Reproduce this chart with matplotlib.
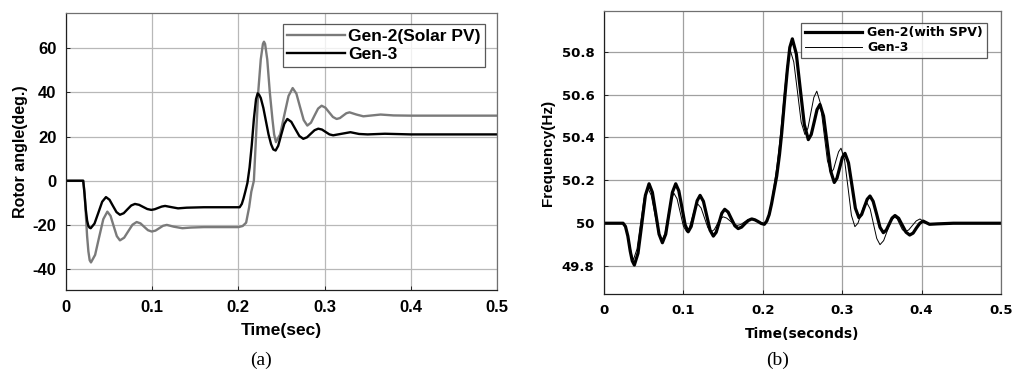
import matplotlib.pyplot as plt

# (a) rotor angle
t_gen2a = [0, 0.02, 0.0215, 0.023, 0.0245, 0.026, 0.0275, 0.029,
           0.0338, 0.0385, 0.0433, 0.048,
           0.0517, 0.0553, 0.059, 0.0626,
           0.0675, 0.0723, 0.0772, 0.082,
           0.0864, 0.0907, 0.0951, 0.0994,
           0.1038, 0.1082, 0.1126, 0.117,
           0.125, 0.135, 0.145, 0.16, 0.18, 0.2, 0.205,
           0.209, 0.2125, 0.215, 0.218, 0.2205, 0.223, 0.226, 0.2285, 0.2297,
           0.231, 0.2335, 0.2365, 0.2395, 0.2415, 0.2436,
           0.2485, 0.2533, 0.2582, 0.263,
           0.2673, 0.2715, 0.2758, 0.28,
           0.2842, 0.2883, 0.2925, 0.2966,
           0.301, 0.3053, 0.3097, 0.314,
           0.3178, 0.3215, 0.3253, 0.329,
           0.337, 0.345, 0.355, 0.365, 0.38, 0.4, 0.5]
y_gen2a = [0, 0, -5, -15, -25, -32, -36, -37,
           -33.6, -25.5, -17.4, -14,
           -15.9, -20.5, -25.1, -27,
           -25.8, -22.85, -19.9, -18.7,
           -19.3, -20.85, -22.4, -23,
           -22.6, -21.5, -20.4, -20,
           -20.8, -21.5, -21.2, -21, -21, -21, -20.5,
           -19, -12, -5, 0, 20, 40, 55, 62, 63,
           62, 55, 40, 28, 21, 17.5,
           21, 29.75, 38.4, 42,
           39.5, 33.5, 27.5, 25,
           26.3, 29.5, 32.7, 34,
           33.1, 31, 28.9, 28,
           28.4, 29.5, 30.6, 31,
           30, 29.2, 29.6, 30, 29.6, 29.5, 29.5]

t_gen3a = [0, 0.02, 0.0215, 0.023, 0.0245, 0.026, 0.0275, 0.0287,
           0.0331, 0.0376, 0.042, 0.0464,
           0.0505, 0.0545, 0.0586, 0.0626,
           0.067, 0.0713, 0.0757, 0.08,
           0.0848, 0.0895, 0.0943, 0.099,
           0.103, 0.107, 0.111, 0.115,
           0.123, 0.13, 0.14, 0.16, 0.2015,
           0.204, 0.206, 0.208, 0.2105, 0.213, 0.2155, 0.218, 0.2205, 0.2224,
           0.224, 0.226, 0.229, 0.232, 0.235, 0.238, 0.2405, 0.2432,
           0.2462, 0.2497, 0.2533, 0.2568,
           0.2614, 0.266, 0.2707, 0.2753,
           0.2797, 0.284, 0.2884, 0.2927,
           0.297, 0.3013, 0.3057, 0.31,
           0.32, 0.33, 0.34, 0.35, 0.37, 0.4, 0.5]
y_gen3a = [0, 0, -6, -13, -18, -20.5, -21.3, -21.5,
           -19.4, -14.45, -9.5, -7.4,
           -8.6, -11.4, -14.2, -15.4,
           -14.7, -12.95, -11.2, -10.5,
           -10.9, -11.85, -12.8, -13.2,
           -12.9, -12.3, -11.7, -11.4,
           -12, -12.5, -12.2, -12, -12,
           -10.5, -8, -5, -1, 6, 16, 28, 37, 39.6,
           39, 37.5, 33, 27, 21, 16.5, 14.2, 13.7,
           15.8, 20.8, 25.8, 28,
           26.7, 23.5, 20.3, 19,
           19.7, 21.3, 22.9, 23.6,
           23.2, 22.1, 21.0, 20.6,
           21.3, 22, 21.2, 21, 21.3, 21, 21]

# (b) frequency
t_gen2b = [0, 0.024, 0.027, 0.03, 0.033, 0.0355, 0.0382,
           0.0428, 0.0475, 0.0521, 0.0567,
           0.0609, 0.0651, 0.0693, 0.0735,
           0.0777, 0.0819, 0.0861, 0.0903,
           0.0942, 0.0982, 0.1021, 0.106,
           0.1098, 0.1135, 0.1173, 0.121,
           0.1252, 0.1294, 0.1335, 0.1377,
           0.1413, 0.1449, 0.1484, 0.152,
           0.1563, 0.1605, 0.1648, 0.169,
           0.1733, 0.1775, 0.1818, 0.186,
           0.19, 0.194, 0.198, 0.2019,
           0.205, 0.208, 0.211, 0.214, 0.2175, 0.221, 0.2238, 0.228, 0.231, 0.234, 0.2372,
           0.2422, 0.2472, 0.2523, 0.2573,
           0.261, 0.2647, 0.2683, 0.272,
           0.2765, 0.281, 0.2855, 0.29,
           0.2934, 0.2968, 0.3001, 0.3035,
           0.3079, 0.3123, 0.3166, 0.321,
           0.3245, 0.328, 0.3315, 0.335,
           0.339, 0.3434, 0.3476, 0.3518,
           0.3555, 0.3592, 0.3628, 0.3665,
           0.3711, 0.3758, 0.3804, 0.385,
           0.3893, 0.3935, 0.3978, 0.402,
           0.41, 0.42, 0.44, 0.5]
f_gen2b = [50, 50, 49.985, 49.94, 49.87, 49.825, 49.805,
           49.86, 49.995, 50.13, 50.184,
           50.144, 50.047, 49.949, 49.909,
           49.949, 50.047, 50.144, 50.184,
           50.151, 50.072, 49.993, 49.96,
           49.985, 50.045, 50.105, 50.13,
           50.102, 50.035, 49.968, 49.94,
           49.958, 50.003, 50.047, 50.065,
           50.052, 50.02, 49.988, 49.975,
           49.982, 49.998, 50.013, 50.02,
           50.016, 50.008, 49.999, 49.995,
           50.01, 50.04, 50.09, 50.15, 50.22, 50.32, 50.42, 50.6, 50.72, 50.82, 50.86,
           50.79, 50.625, 50.46, 50.39,
           50.414, 50.472, 50.53, 50.554,
           50.5, 50.372, 50.243, 50.19,
           50.21, 50.258, 50.306, 50.326,
           50.282, 50.176, 50.07, 50.026,
           50.041, 50.077, 50.112, 50.127,
           50.102, 50.042, 49.981, 49.956,
           49.968, 49.996, 50.024, 50.036,
           50.023, 49.99, 49.958, 49.945,
           49.954, 49.978, 50.0, 50.01,
           49.995, 49.997, 50.0, 50.0]

t_gen3b = [0, 0.024, 0.027, 0.03, 0.033, 0.035, 0.037,
           0.0415, 0.046, 0.0505, 0.055,
           0.0595, 0.064, 0.0685, 0.073,
           0.0768, 0.0805, 0.0843, 0.088,
           0.092, 0.096, 0.1, 0.104,
           0.1075, 0.111, 0.1145, 0.118,
           0.1223, 0.1265, 0.1308, 0.135,
           0.1388, 0.1425, 0.1463, 0.15,
           0.1545, 0.159, 0.1635, 0.168,
           0.1723, 0.1765, 0.1808, 0.185,
           0.193, 0.2, 0.2019,
           0.205, 0.208, 0.211, 0.214, 0.2175, 0.221, 0.224, 0.2275, 0.2305, 0.2343,
           0.239, 0.2437, 0.2483, 0.253,
           0.2568, 0.2605, 0.2643, 0.268,
           0.2725, 0.2769, 0.2814, 0.2859,
           0.2891, 0.2922, 0.2954, 0.2985,
           0.3029, 0.3073, 0.3116, 0.316,
           0.3198, 0.3235, 0.3273, 0.331,
           0.3352, 0.3393, 0.3435, 0.3476,
           0.3522, 0.3568, 0.3614, 0.366,
           0.3693, 0.3725, 0.3758, 0.379,
           0.3838, 0.3885, 0.3933, 0.398,
           0.405, 0.41, 0.42, 0.5]
f_gen3b = [50, 50, 49.985, 49.945, 49.885, 49.85, 49.83,
           49.879, 49.998, 50.117, 50.166,
           50.13, 50.043, 49.956, 49.92,
           49.952, 50.03, 50.108, 50.14,
           50.114, 50.05, 49.986, 49.96,
           49.979, 50.025, 50.071, 50.09,
           50.071, 50.025, 49.979, 49.96,
           49.97, 49.995, 50.02, 50.03,
           50.024, 50.01, 49.996, 49.99,
           49.994, 50.005, 50.016, 50.02,
           50.01, 50.0, 49.998,
           50.01, 50.04, 50.1, 50.17, 50.26, 50.37, 50.48, 50.62, 50.73, 50.81,
           50.752, 50.612, 50.472, 50.414,
           50.443, 50.515, 50.587, 50.616,
           50.56, 50.426, 50.291, 50.235,
           50.252, 50.293, 50.333, 50.35,
           50.297, 50.167, 50.037, 49.984,
           50.0, 50.04, 50.08, 50.096,
           50.067, 49.998, 49.929, 49.9,
           49.919, 49.965, 50.011, 50.03,
           50.02, 49.995, 49.97, 49.96,
           49.969, 49.99, 50.011, 50.02,
           50.0, 49.995, 49.998, 50.0]

x_ticks = [0, 0.1, 0.2, 0.3, 0.4, 0.5]
x_ticklabels = ['0', '0.1', '0.2', '0.3', '0.4', '0.5']
ya_ticks = [-40, -20, 0, 20, 40, 60]
yb_ticks = [49.8, 50.0, 50.2, 50.4, 50.6, 50.8]
yb_ticklabels = ['49.8', '50', '50.2', '50.4', '50.6', '50.8']

plt.rcParams['font.family'] = ['Liberation Sans', 'DejaVu Sans']
plt.rcParams['axes.unicode_minus'] = False

fig = plt.figure(figsize=(10.15, 3.72), dpi=100)
ax1 = fig.add_axes([0.065, 0.2204, 0.4246, 0.7446])
ax2 = fig.add_axes([0.5951, 0.2097, 0.3911, 0.7608])


def style_axes(ax, grid_color, family, size):
    ax.grid(True, color=grid_color, linewidth=0.9)
    ax.set_axisbelow(True)
    for side in ['left', 'bottom']:
        ax.spines[side].set_color('#202020')
    for side in ['top', 'right']:
        ax.spines[side].set_color('#707070')
    for sp in ax.spines.values():
        sp.set_linewidth(0.9)
    ax.tick_params(direction='in', length=3, width=0.7, colors='#202020', pad=7)
    for lbl in ax.get_xticklabels() + ax.get_yticklabels():
        lbl.set_fontweight('bold')
        lbl.set_fontfamily(family)
        lbl.set_fontsize(size)
        lbl.set_color('black')


# panel (a)
ax1.plot(t_gen2a, y_gen2a, color='#7a7a7a', linewidth=1.7, label='Gen-2(Solar PV)')
ax1.plot(t_gen3a, y_gen3a, color='black', linewidth=1.7, label='Gen-3')
ax1.set_xlim(0, 0.5)
ax1.set_ylim(-49.5, 76)
ax1.set_xticks(x_ticks)
ax1.set_xticklabels(x_ticklabels)
ax1.set_yticks(ya_ticks)
style_axes(ax1, '#b8b8b8', 'Liberation Sans', 12)
ax1.set_xlabel('Time(sec)', fontsize=12.5, fontweight='bold', labelpad=6)
ax1.set_ylabel('Rotor angle(deg.)', fontsize=11.5, fontweight='bold', labelpad=3)
leg1 = ax1.legend(loc='upper right', bbox_to_anchor=(0.972, 0.960),
                  prop={'weight': 'bold', 'size': 12.5}, frameon=True, fancybox=False,
                  handlelength=3.3, handletextpad=0.2, borderpad=0.25, labelspacing=0.2,
                  borderaxespad=0)
leg1.get_frame().set_edgecolor('#303030')
leg1.get_frame().set_linewidth(0.9)
fig.text(0.257, 0.032, '(a)', fontsize=14, family='Liberation Serif', ha='center', va='center')

# panel (b)
ax2.plot(t_gen2b, f_gen2b, color='black', linewidth=2.3, label='Gen-2(with SPV)')
ax2.plot(t_gen3b, f_gen3b, color='black', linewidth=0.7, label='Gen-3')
ax2.set_xlim(0, 0.5)
ax2.set_ylim(49.67, 50.99)
ax2.set_xticks(x_ticks)
ax2.set_xticklabels(x_ticklabels)
ax2.set_yticks(yb_ticks)
ax2.set_yticklabels(yb_ticklabels)
style_axes(ax2, '#a0a0a0', 'DejaVu Sans', 9.5)
ax2.set_xlabel('Time(seconds)', fontsize=10, fontweight='bold', family='DejaVu Sans',
               labelpad=7.5)
ax2.set_ylabel('Frequency(Hz)', fontsize=11, fontweight='bold', labelpad=5)
leg2 = ax2.legend(loc='upper right', bbox_to_anchor=(0.9647, 0.9587),
                  prop={'weight': 'bold', 'size': 9, 'family': 'DejaVu Sans'},
                  frameon=True, fancybox=False,
                  handlelength=4.6, handletextpad=0.4, borderpad=0.3, labelspacing=0.15,
                  borderaxespad=0)
leg2.get_frame().set_edgecolor('#303030')
leg2.get_frame().set_linewidth(0.9)
fig.text(0.766, 0.032, '(b)', fontsize=14, family='Liberation Serif', ha='center', va='center')

fig.savefig('out.png', dpi=100, facecolor='white')
